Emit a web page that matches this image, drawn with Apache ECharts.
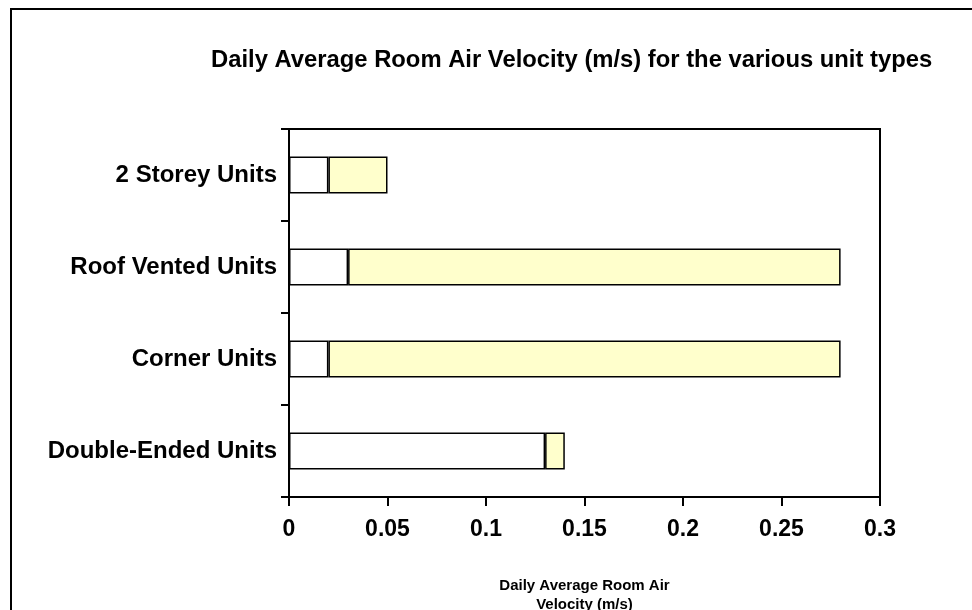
<!DOCTYPE html>
<html lang="en">
<head>
    <meta charset="UTF-8">
    <title>Daily Average Room Air Velocity</title>
    <style>
        body { margin: 0; background: #fff; }
        #chart { width: 972px; height: 610px; }
    </style>
</head>
<body>
    <div id="chart"></div>
    <script src="https://cdn.jsdelivr.net/npm/echarts@6/dist/echarts.min.js"></script>
    <script>
        // unit types, bottom to top as drawn
        const unitTypes = ['Double-Ended Units', 'Corner Units', 'Roof Vented Units', '2 Storey Units'];
        // white (first) segment and yellow (second) segment, m/s
        const baseVelocity = [0.13, 0.02, 0.03, 0.02];
        const extraVelocity = [0.01, 0.26, 0.25, 0.03];

        const font = 'Liberation Sans, Arial, sans-serif';
        const chart = echarts.init(document.getElementById('chart'));

        const barStyle = (fill) => ({
            color: fill,
            borderColor: '#000',
            borderWidth: 1.5
        });

        chart.setOption({
            animation: false,
            title: {
                text: 'Daily Average Room Air Velocity (m/s) for the various unit types',
                left: 206,
                top: 43,
                textStyle: { fontFamily: font, fontSize: 23.8, fontWeight: 'bold', color: '#000' }
            },
            graphic: [{
                type: 'polyline',
                shape: { points: [[11, 610], [11, 9], [972, 9]] },
                style: { stroke: '#000', lineWidth: 2, fill: null }
            }],
            grid: {
                left: 289, top: 129, right: 92, bottom: 113,
                outerBoundsMode: 'none',
                show: true, borderColor: '#000', borderWidth: 2
            },
            xAxis: {
                type: 'value',
                min: 0, max: 0.3, interval: 0.05,
                name: 'Daily Average Room Air\nVelocity (m/s)',
                nameLocation: 'middle',
                nameGap: 79,
                nameTextStyle: { fontFamily: font, fontSize: 15, fontWeight: 'bold', color: '#000', lineHeight: 19 },
                axisLine: { lineStyle: { color: '#000', width: 2 } },
                axisTick: { show: true, length: 9, lineStyle: { color: '#000', width: 2 } },
                axisLabel: { fontFamily: font, fontSize: 23, fontWeight: 'bold', color: '#000', margin: 21 },
                splitLine: { show: false }
            },
            yAxis: {
                type: 'category',
                data: unitTypes,
                axisLine: { lineStyle: { color: '#000', width: 2 } },
                axisTick: { show: true, length: 8, lineStyle: { color: '#000', width: 2 } },
                axisLabel: { fontFamily: font, fontSize: 24, fontWeight: 'bold', color: '#000', margin: 12 }
            },
            series: [{
                type: 'bar',
                stack: 'v',
                data: baseVelocity,
                barWidth: 37,
                itemStyle: barStyle('#ffffff')
            }, {
                type: 'bar',
                stack: 'v',
                data: extraVelocity,
                barWidth: 37,
                itemStyle: barStyle('#ffffcc')
            }]
        });
    </script>
</body>
</html>
